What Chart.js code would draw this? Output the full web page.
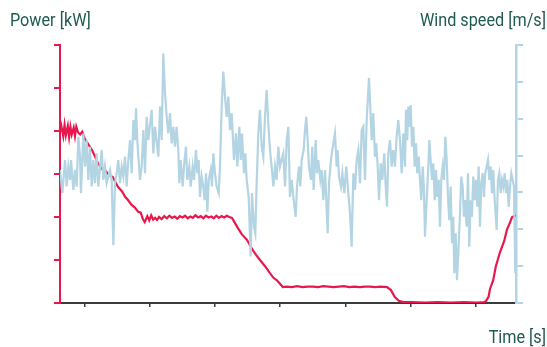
<!DOCTYPE html>
<html>
<head>
<meta charset="utf-8">
<script src="https://cdn.jsdelivr.net/npm/chart.js@4"></script>
<style>
  html, body { margin: 0; padding: 0; background: #fff; }
  #wrap { width: 547px; height: 347px; position: relative; }
</style>
</head>
<body>
<div id="wrap"><canvas id="chart"></canvas></div>
<script>
// Time axis [s]; tick marks only, no labels
const TIME_TICKS = [38, 138, 238, 338, 438, 538, 638];

// Power [kW]
const POWER_TIME = [0, 2, 5, 7, 9, 12, 14, 16, 18, 21, 23, 25, 28, 31, 34, 38, 43, 49, 54, 58,
  64, 69, 75, 81, 89, 95, 100, 104, 110, 115, 120, 124, 127, 130, 134, 137, 140, 143, 146, 149,
  152, 156, 160, 164, 168, 172, 176, 180, 184, 188, 192, 196, 200, 204, 208, 212, 216, 220, 224, 228,
  232, 236, 240, 244, 248, 252, 256, 260, 264, 272, 279, 287, 292, 296, 301, 307, 315, 322, 328, 333,
  338, 342, 348, 356, 364, 372, 380, 388, 396, 404, 412, 420, 428, 436, 444, 452, 460, 468, 476, 484,
  492, 502, 508, 514, 520, 527, 540, 560, 580, 600, 620, 640, 651, 654, 658, 660, 665, 669, 675, 682,
  686, 691, 694, 697, 700];
const POWER_KW = [3.98, 4.12, 3.88, 4.14, 3.90, 4.12, 3.86, 4.10, 3.92, 4.08, 3.88, 4.10, 3.96, 3.92, 3.98, 3.82, 3.70, 3.56, 3.40, 3.26,
  3.12, 3.09, 2.98, 2.93, 2.70, 2.60, 2.47, 2.40, 2.28, 2.22, 2.12, 2.10, 1.96, 1.88, 2.02, 1.92, 2.04, 1.94, 1.98, 1.93,
  2.00, 1.95, 2.02, 1.97, 2.03, 1.98, 2.01, 1.96, 2.02, 1.99, 2.03, 1.97, 2.01, 1.98, 2.04, 1.99, 2.02, 1.97, 2.03, 1.99,
  2.01, 1.97, 2.03, 1.98, 2.02, 1.99, 2.03, 2.00, 1.98, 1.77, 1.60, 1.47, 1.33, 1.23, 1.12, 1.00, 0.85, 0.70, 0.58, 0.53,
  0.44, 0.37, 0.38, 0.37, 0.39, 0.37, 0.38, 0.38, 0.37, 0.39, 0.38, 0.37, 0.38, 0.39, 0.37, 0.38, 0.37, 0.38, 0.38, 0.37,
  0.38, 0.37, 0.30, 0.14, 0.05, 0.02, 0.02, 0.01, 0.02, 0.01, 0.02, 0.01, 0.02, 0.05, 0.15, 0.32, 0.53, 0.85, 1.16, 1.45,
  1.70, 1.88, 2.00, 2.02, 2.04];

// Wind speed [m/s]
const WIND_TIME = [0, 3.6, 7.7, 10.2, 12.8, 15.4, 16.9, 20.5, 23, 25.6, 28.2, 30.7, 32.2, 35.8, 38.4, 40.9, 43.5, 46, 48.6, 51.2,
  53.7, 56.3, 58.8, 64, 66.5, 69, 71.6, 76.8, 79.3, 81.9, 84.4, 87, 89.5, 92.1, 94.7, 97.2, 99.8, 102.3, 104.9, 107.5,
  110, 112.6, 115.1, 116.7, 118.7, 120.3, 122.8, 125.4, 128, 130.5, 133, 135.6, 140.7, 143.3, 145.8, 151, 153.5, 156.1, 158.6, 161.2,
  163.8, 166.3, 168.9, 171.4, 174, 176.5, 179, 181.6, 183.2, 185.2, 188.3, 190.3, 193.4, 195.4, 198.5, 200.6, 203.6, 205.7, 208.8, 210.8,
  212.9, 214.9, 217.5, 220, 222.1, 224.1, 226.2, 228.3, 231.3, 233.3, 235.4, 237.9, 240.5, 243.6, 245.6, 248.2, 250.7, 253.3, 255.9, 258.4,
  261, 263.5, 267.1, 270.2, 272.2, 275.3, 277.4, 279.4, 282.4, 284.5, 286.6, 289.6, 292.7, 294.7, 297.8, 299.8, 301.9, 304.4, 307, 309.6,
  312.1, 314.7, 317.2, 319.8, 322.4, 324.9, 327.5, 330, 332.6, 335.2, 337.7, 342.8, 345.4, 348, 350.5, 353, 355.7, 358.7, 361.8, 363.8,
  366.9, 368.9, 371, 374, 376.1, 378.1, 380.2, 382.2, 385.3, 387.3, 389.4, 392.5, 394.5, 396.5, 399.6, 401.7, 404.2, 406.8, 410.9, 412.9,
  416, 418, 422.1, 424.7, 426.2, 428.3, 431.3, 433.4, 436.4, 439.5, 442.6, 445.2, 447.7, 450.3, 452.8, 455.4, 458, 460.5, 463.1, 465.6,
  468.2, 470.8, 474.3, 476.3, 478.5, 480.9, 483.5, 485.5, 487.7, 489.7, 492.3, 494.8, 497.8, 500, 502, 504, 506.6, 509.2, 511.6, 514.2,
  516.8, 519.3, 521.9, 524.5, 527, 529.6, 531.1, 533.1, 534.7, 536.2, 538.3, 540.3, 542.4, 544.4, 546.5, 548.5, 550.6, 552.6, 554.6, 556.8,
  558.7, 560.3, 562.9, 565.4, 566.9, 569, 571, 573, 575.2, 577.2, 579.2, 581.3, 583.3, 585.3, 587.4, 589.4, 591.5, 593.6, 595.6, 597.6,
  599.7, 601.7, 603.7, 605.3, 607.4, 609.4, 611.4, 614, 616, 618.1, 620.1, 622.1, 624.3, 626.3, 628.3, 630.4, 632.4, 634.4, 636.6, 638.6,
  640.6, 642.7, 644.7, 646.7, 648.8, 650.8, 652.8, 655, 657, 659, 661.1, 663.1, 665.1, 667.3, 670.3, 672.3, 674.3, 676.5, 678.5, 680.5,
  682.6, 684.6, 686.6, 688.8, 690.8, 692.8, 694.9, 696.9, 698.9];
const WIND_SPEED = [3.61, 2.98, 3.88, 3.16, 3.70, 3.34, 3.88, 3.07, 3.61, 3.16, 4.51, 3.97, 2.98, 4.60, 3.70, 4.42, 3.34, 4.24, 3.16, 3.88,
  3.25, 4.06, 3.16, 4.15, 3.34, 3.70, 3.25, 3.61, 3.34, 1.57, 3.25, 3.52, 3.88, 3.25, 3.70, 3.43, 3.97, 3.16, 3.88, 4.42,
  3.52, 4.96, 4.42, 5.28, 4.42, 3.97, 3.34, 3.70, 4.69, 3.52, 5.05, 4.42, 5.24, 4.06, 4.78, 3.97, 5.33, 4.42, 6.77, 5.69,
  5.05, 4.60, 5.15, 4.33, 4.78, 4.24, 4.78, 4.15, 3.25, 3.88, 3.16, 3.70, 4.24, 3.34, 3.70, 3.16, 3.70, 3.34, 4.15, 3.52,
  3.88, 2.88, 3.43, 3.16, 2.79, 3.52, 2.48, 3.34, 3.61, 3.16, 4.06, 3.52, 3.16, 2.98, 3.70, 5.33, 6.28, 5.60, 5.05, 5.60,
  4.69, 5.15, 3.88, 4.60, 3.70, 4.78, 3.88, 4.60, 3.52, 4.06, 3.34, 2.88, 1.26, 2.98, 2.07, 1.89, 3.25, 4.60, 5.24, 4.24,
  3.97, 5.05, 5.78, 4.87, 4.15, 3.70, 3.16, 3.70, 3.34, 4.24, 3.70, 4.06, 3.16, 4.42, 4.78, 2.88, 3.34, 2.79, 2.34, 3.16,
  3.70, 3.16, 3.88, 4.15, 4.69, 5.05, 4.42, 3.70, 3.34, 4.24, 3.07, 4.42, 3.52, 3.88, 3.34, 3.61, 2.79, 3.61, 1.89, 3.25,
  3.88, 4.15, 4.60, 3.70, 4.15, 3.43, 3.16, 3.52, 2.98, 3.70, 2.98, 2.43, 1.53, 3.52, 3.07, 3.88, 4.15, 3.25, 4.69, 4.78,
  3.34, 4.96, 6.10, 5.33, 4.42, 5.15, 3.97, 4.33, 3.70, 2.79, 3.79, 3.34, 4.06, 3.16, 2.61, 4.06, 4.42, 3.70, 4.15, 3.70,
  4.51, 4.96, 4.42, 3.52, 4.60, 3.70, 5.24, 4.42, 5.33, 4.78, 5.37, 4.24, 4.78, 3.70, 4.33, 3.52, 3.97, 3.34, 2.79, 3.70,
  3.07, 1.80, 2.79, 3.70, 4.42, 3.88, 3.34, 3.79, 2.79, 3.61, 2.88, 3.34, 2.07, 3.34, 3.70, 3.34, 4.51, 3.88, 2.88, 2.25,
  3.16, 1.62, 2.34, 0.81, 1.89, 0.62, 1.35, 2.43, 3.43, 3.16, 2.34, 2.79, 2.07, 3.52, 1.53, 2.79, 2.34, 3.43, 2.79, 3.34,
  2.61, 3.70, 2.07, 3.25, 3.52, 2.88, 3.52, 3.70, 3.88, 3.34, 3.70, 2.98, 3.61, 2.79, 1.98, 3.34, 3.52, 2.98, 3.34, 3.16,
  3.52, 2.98, 3.34, 2.61, 3.16, 3.52, 3.34, 3.16, 0.81];

const RED = '#e8184f';
const BLUE = '#b3d4e3';
const AXIS = '#3b3b3b';
const TEXT = '#1f5a50';

const toPoints = (xs, ys) => xs.map((x, i) => ({ x, y: ys[i] }));

// the reference uses a condensed face; squeeze Roboto horizontally instead
function condensedText(ctx, text, x, y, align) {
  const squeeze = 0.9;
  const w = ctx.measureText(text).width * squeeze;
  const left = align === 'right' ? x - w : x;
  ctx.save();
  ctx.translate(left, y);
  ctx.scale(squeeze, 1);
  ctx.textAlign = 'left';
  ctx.fillText(text, 0, 0);
  ctx.restore();
}

// axis captions sit outside the plot, drawn by hand
const captions = {
  id: 'captions',
  afterDraw(chart) {
    const ctx = chart.ctx;
    ctx.save();
    ctx.fillStyle = TEXT;
    ctx.font = '18px Roboto, "Noto Sans", sans-serif';
    ctx.textBaseline = 'alphabetic';
    condensedText(ctx, 'Power [kW]', 10, 26, 'left');
    condensedText(ctx, 'Wind speed [m/s]', 546, 26, 'right');
    condensedText(ctx, 'Time [s]', 546, 343, 'right');
    ctx.restore();
  }
};

new Chart(document.getElementById('chart'), {
  type: 'line',
  data: {
    datasets: [
      {
        label: 'Wind speed',
        data: toPoints(WIND_TIME, WIND_SPEED),
        yAxisID: 'yW',
        borderColor: BLUE,
        borderWidth: 2.2,
        pointRadius: 0,
        tension: 0,
        order: 0
      },
      {
        label: 'Power',
        data: toPoints(POWER_TIME, POWER_KW),
        yAxisID: 'yP',
        borderColor: RED,
        borderWidth: 2.2,
        pointRadius: 0,
        tension: 0,
        order: 1
      }
    ]
  },
  options: {
    responsive: true,
    maintainAspectRatio: false,
    animation: false,
    layout: { padding: { left: 54, right: 24, top: 45, bottom: 40 } },
    plugins: { legend: { display: false }, tooltip: { enabled: false } },
    scales: {
      x: {
        type: 'linear',
        min: 0,
        max: 700,
        afterBuildTicks: (s) => { s.ticks = TIME_TICKS.map(v => ({ value: v })); },
        ticks: { display: false },
        grid: { drawOnChartArea: false, tickLength: 4, color: AXIS, lineWidth: 1.5 },
        border: { color: AXIS, width: 2 }
      },
      yP: {
        position: 'left',
        min: 0,
        max: 6,
        ticks: { display: false, stepSize: 1 },
        grid: { drawOnChartArea: false, tickLength: 6, color: RED, lineWidth: 2 },
        border: { color: RED, width: 2 }
      },
      yW: {
        position: 'right',
        min: 0,
        max: 7,
        ticks: { display: false, stepSize: 1 },
        grid: { drawOnChartArea: false, tickLength: 7, color: BLUE, lineWidth: 2 },
        border: { color: BLUE, width: 2.5 }
      }
    }
  },
  plugins: [captions]
});
</script>
</body>
</html>
